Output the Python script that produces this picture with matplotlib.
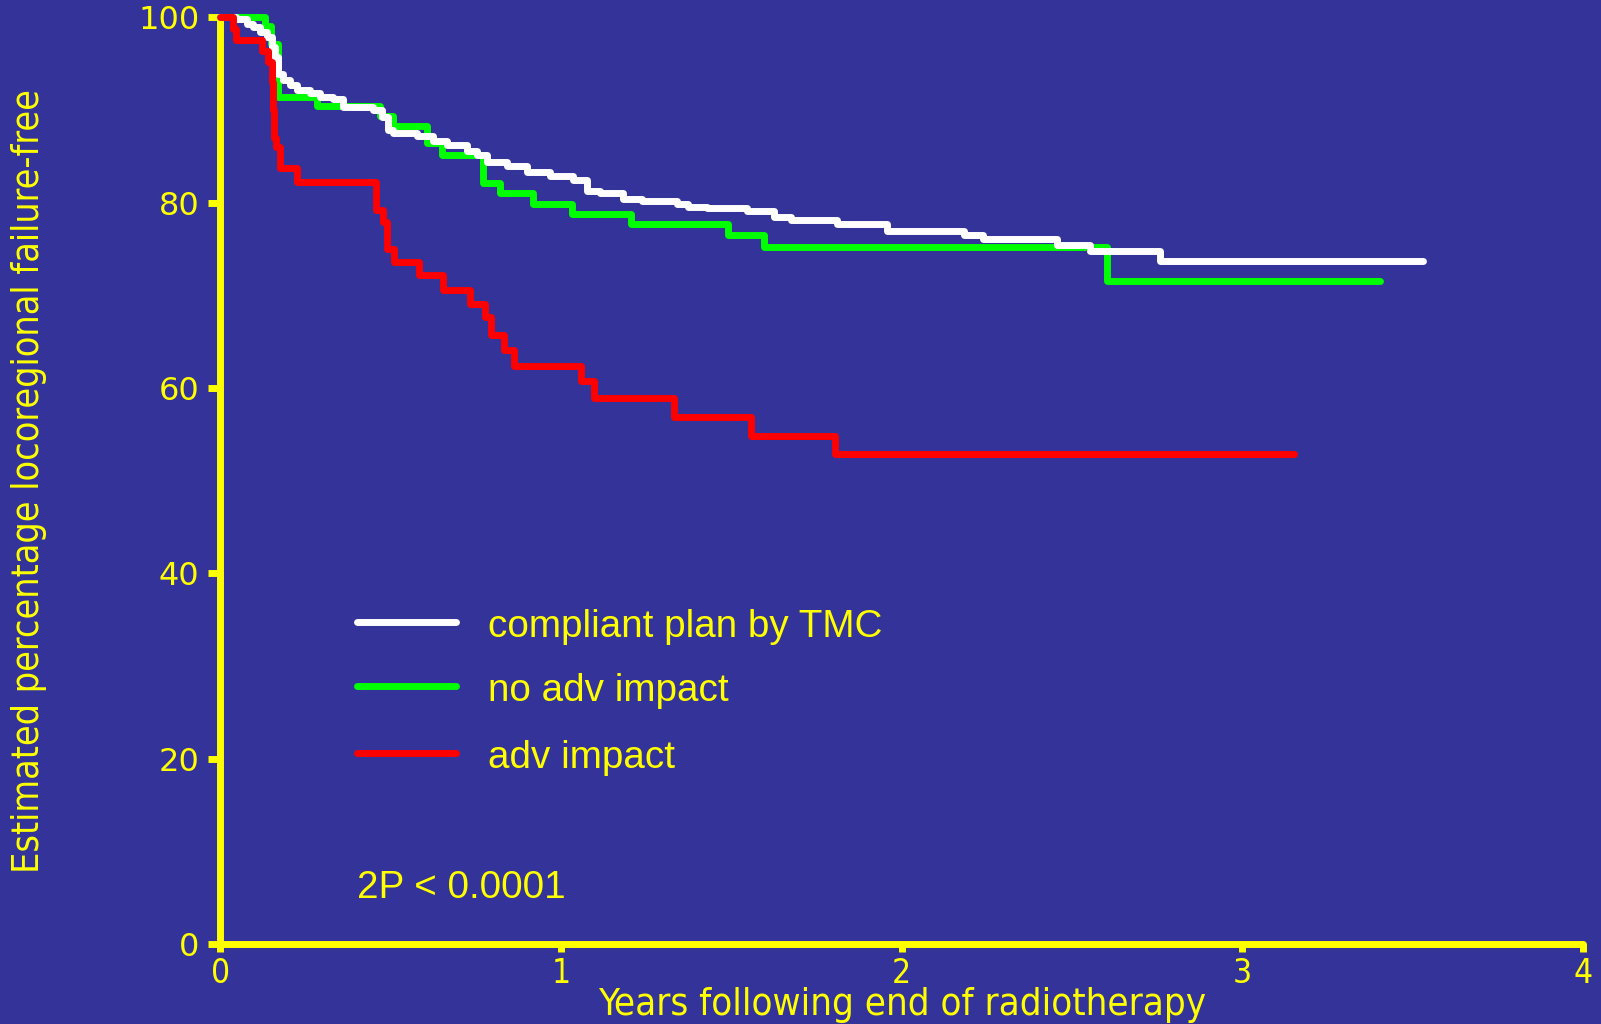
import matplotlib
matplotlib.use("Agg")
import matplotlib.pyplot as plt

# ---- data -------------------------------------------------------------
white_t = [0, 0.047, 0.077, 0.096, 0.116, 0.136, 0.150, 0.160, 0.170, 0.184, 0.204,
           0.224, 0.263, 0.292, 0.331, 0.361, 0.449, 0.473, 0.493, 0.507, 0.576,
           0.625, 0.664, 0.723, 0.752, 0.782, 0.840, 0.899, 0.967, 1.036, 1.075,
           1.114, 1.183, 1.238, 1.339, 1.373, 1.429, 1.546, 1.625, 1.675, 1.810,
           1.957, 2.182, 2.238, 2.455, 2.553, 2.758, 3.531]
white_s = [100, 99.8, 99.3, 98.95, 98.4, 97.9, 96.8, 95.7, 93.9, 93.2, 92.7,
           92.2, 91.8, 91.4, 91.2, 90.3, 90.0, 89.2, 87.8, 87.5, 87.2,
           86.7, 86.2, 85.6, 85.1, 84.4, 84.0, 83.3, 82.9, 82.4, 81.3,
           81.0, 80.4, 80.2, 79.9, 79.5, 79.4, 79.1, 78.5, 78.1, 77.7,
           77.0, 76.5, 76.1, 75.4, 74.8, 73.7, 73.7]

green_t = [0, 0.131, 0.147, 0.170, 0.282, 0.468, 0.507, 0.605, 0.649, 0.772, 0.821,
           0.918, 1.031, 1.204, 1.490, 1.597, 2.602, 3.404]
green_s = [100, 99.1, 97.1, 91.4, 90.4, 89.4, 88.3, 86.4, 85.2, 82.1, 81.0,
           79.9, 78.8, 77.7, 76.5, 75.2, 71.5, 71.5]

red_t = [0, 0.038, 0.047, 0.121, 0.140, 0.150, 0.153, 0.157, 0.163, 0.175, 0.224,
         0.456, 0.476, 0.490, 0.510, 0.584, 0.653, 0.733, 0.777, 0.795, 0.831,
         0.861, 1.058, 1.097, 1.331, 1.556, 1.805, 3.151]
red_s = [100, 98.8, 97.6, 96.4, 95.2, 93.0, 90.0, 87.0, 86.0, 83.7, 82.2,
         79.2, 77.9, 75.0, 73.6, 72.2, 70.6, 69.1, 67.7, 65.7, 64.1,
         62.4, 60.8, 58.9, 56.9, 54.8, 52.9, 52.9]

series_labels = ["compliant plan by TMC", "no adv impact", "adv impact"]
x_ticks = [0, 1, 2, 3, 4]
y_ticks = [0, 20, 40, 60, 80, 100]
x_label = "Years following end of radiotherapy"
y_label = "Estimated percentage locoregional failure-free"
p_text = "2P < 0.0001"

# ---- style -------------------------------------------------------------
BG = "#333399"
YEL = "#ffff00"

fig = plt.figure(figsize=(16.01, 10.24), dpi=100, facecolor=BG)
ax = fig.add_axes([0.1377, 0.0781, 0.8511, 0.9049], facecolor=BG)

lw = 5.0
for t, s, c, z in [(green_t, green_s, "#00ff00", 3),
                   (white_t, white_s, "#ffffff", 4),
                   (red_t, red_s, "#ff0000", 5)]:
    ax.step(t, s, where="post", color=c, lw=lw, clip_on=False,
            solid_capstyle="round", solid_joinstyle="round", zorder=z)

ax.set_xlim(0, 4)
ax.set_ylim(0, 100)
for s in ["top", "right"]:
    ax.spines[s].set_visible(False)
for s in ["left", "bottom"]:
    ax.spines[s].set_color(YEL)
    ax.spines[s].set_linewidth(5)
    ax.spines[s].set_capstyle("round")
    ax.spines[s].set_zorder(2)

ax.set_xticks(x_ticks)
ax.set_yticks(y_ticks)
ax.tick_params(axis="both", colors=YEL, width=5, direction="out")
ax.tick_params(axis="y", length=9, pad=6)
ax.tick_params(axis="x", length=6, pad=3)
for lab in ax.get_yticklabels():
    lab.set_fontfamily("DejaVu Sans")
    lab.set_fontsize(23)
for lab in ax.get_xticklabels():
    lab.set_fontfamily("DejaVu Sans")
    lab.set_fontstretch("condensed")
    lab.set_fontsize(24)

ax.set_xlabel(x_label, color=YEL, fontsize=27.5, family="DejaVu Sans",
              fontstretch="condensed", va="top")
ax.xaxis.set_label_coords(0.5, -0.046)
ax.set_ylabel(y_label, color=YEL, fontsize=27, family="DejaVu Sans",
              fontstretch="condensed")
ax.yaxis.set_label_coords(-0.1273, 0.5)

# legend drawn manually in data coordinates
leg_colors = ["#ffffff", "#00ff00", "#ff0000"]
leg_y = [34.7, 27.8, 20.6]
for lbl, c, yy in zip(series_labels, leg_colors, leg_y):
    ax.plot([0.40, 0.69], [yy, yy], color=c, lw=lw, solid_capstyle="round", zorder=5)
    ax.text(0.785, yy - 0.5, lbl, color=YEL, fontsize=27.8, family="Liberation Sans",
            va="center", ha="left")

ax.text(0.40, 6.0, p_text, color=YEL, fontsize=27.8, family="Liberation Sans",
        va="center", ha="left")

fig.savefig("out.png", dpi=100, facecolor=BG)
